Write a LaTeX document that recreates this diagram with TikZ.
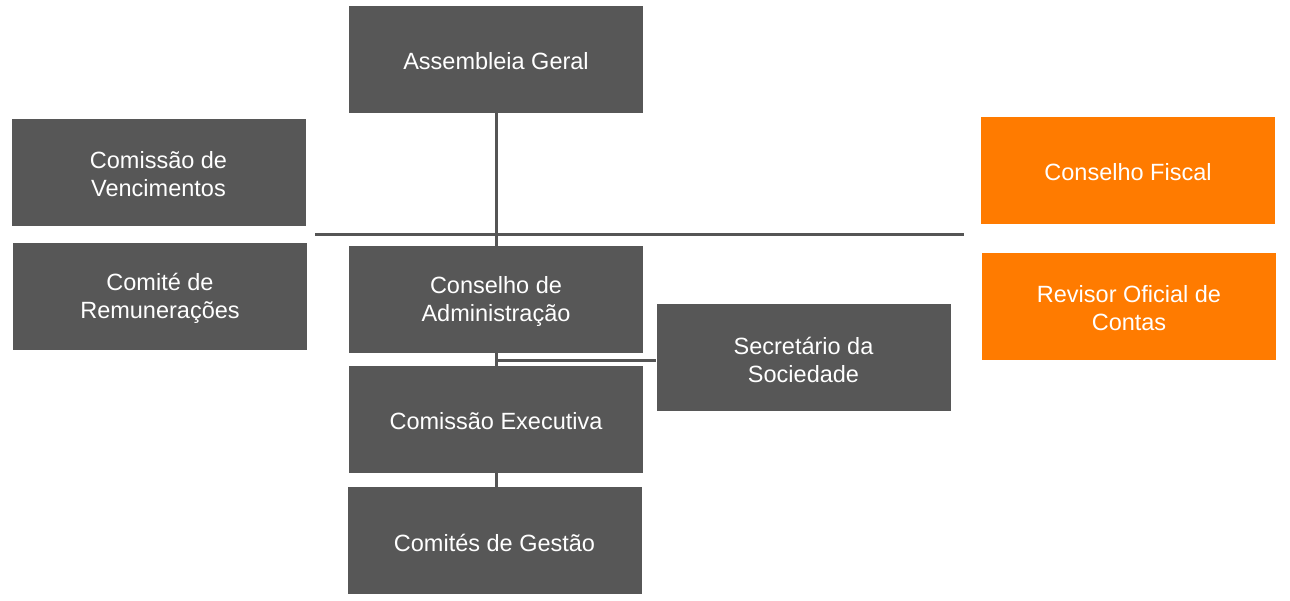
\documentclass[tikz,border=0pt]{standalone}
\usepackage{fontspec}
\setmainfont{Liberation Sans}
\definecolor{boxgray}{HTML}{575757}
\definecolor{boxorange}{HTML}{FF7B00}
\definecolor{linegray}{HTML}{555555}
\begin{document}
\begin{tikzpicture}[x=1pt,y=-1pt,
  boxtext/.style={text=white, inner sep=0pt, align=center, yshift=-2pt, font=\fontsize{23.5}{28}\selectfont},
  orgbox/.style={fill=boxgray, inner sep=0pt, minimum width=294pt, minimum height=107pt, label={[boxtext]center:#1}},
  orangebox/.style={orgbox={#1}, fill=boxorange},
  conn/.style={draw=linegray, line width=3pt}]
\useasboundingbox (0,0) rectangle (1290,600);
\node[orgbox={Assembleia Geral}] (ag) at (496,59.5) {};
\node[orgbox={Comissão de\\Vencimentos}] (cv) at (158.5,172.5) {};
\node[orgbox={Comité de\\Remunerações}] (cr) at (160,296.5) {};
\node[orgbox={Conselho de\\Administração}] (ca) at (496,299.5) {};
\node[orgbox={Comissão Executiva}] (ce) at (496,419.5) {};
\node[orgbox={Comités de Gestão}] (cg) at (494.5,540.5) {};
\node[orgbox={Secretário da\\Sociedade}] (sec) at (803.5,357.5) {};
\node[orangebox={Conselho Fiscal}] (cf) at (1128,170.5) {};
\node[orangebox={Revisor Oficial de\\Contas}] (roc) at (1129,306.5) {};
\coordinate (hl) at (315,234);
\coordinate (hr) at (964,234);
\coordinate (j) at (496,360);
\draw[conn] (hl) -- (hr);
\draw[conn] (ag.south) -- (ca.north);
\draw[conn] (ca.south) -- (ce.north);
\draw[conn] (j) -- (j -| sec.west);
\draw[conn] (ce.south) -- (ce.south |- cg.north);
\end{tikzpicture}
\end{document}
